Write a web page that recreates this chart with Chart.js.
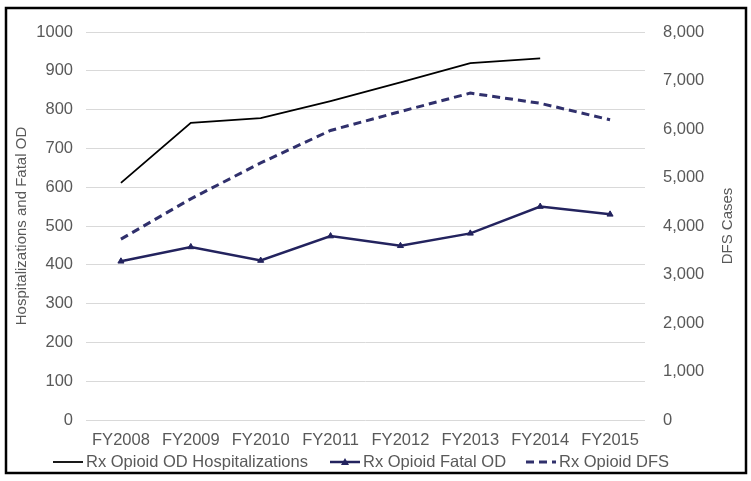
<!DOCTYPE html>
<html>
<head>
<meta charset="utf-8">
<script src="https://cdn.jsdelivr.net/npm/chart.js@4.4.1/dist/chart.umd.min.js"></script>
<style>
  html, body { margin: 0; padding: 0; background: #fff; }
  #wrap { width: 751px; height: 481px; }
</style>
</head>
<body>
<div id="wrap"><canvas id="odChart" width="751" height="481"></canvas></div>
<script>
const years = ['FY2008', 'FY2009', 'FY2010', 'FY2011', 'FY2012', 'FY2013', 'FY2014', 'FY2015'];
const hospitalizations = [611, 766, 778, 822, 870, 920, 932, null];
const fatalOD = [409, 446, 411, 474, 449, 481, 550, 530];
const dfsCases = [3730, 4560, 5300, 5970, 6360, 6740, 6530, 6190];

const leftTicks = [0, 100, 200, 300, 400, 500, 600, 700, 800, 900, 1000];
const rightTicks = [0, 1000, 2000, 3000, 4000, 5000, 6000, 7000, 8000];

const gray = '#595959';
const navy = '#23235e';
const fontFamily = 'Arial, "Liberation Sans", sans-serif';

// white page + black frame
const frame = {
  id: 'frame',
  beforeDraw(chart) {
    const c = chart.ctx;
    c.save();
    c.fillStyle = '#fff';
    c.fillRect(0, 0, chart.width, chart.height);
    c.strokeStyle = '#000';
    c.lineWidth = 2.5;
    c.strokeRect(6, 8, 740, 465);
    c.restore();
  }
};

// right axis title reads bottom-to-top, like the left one
const rightTitle = {
  id: 'rightTitle',
  afterDraw(chart) {
    const c = chart.ctx;
    const area = chart.chartArea;
    c.save();
    c.translate(728, (area.top + area.bottom) / 2);
    c.rotate(-Math.PI / 2);
    c.font = '15px ' + fontFamily;
    c.fillStyle = gray;
    c.textAlign = 'center';
    c.textBaseline = 'middle';
    c.fillText('DFS Cases', 0, 0);
    c.restore();
  }
};

// legend drawn by hand so the marker line can carry a triangle
const bottomLegend = {
  id: 'bottomLegend',
  afterDraw(chart) {
    const c = chart.ctx;
    const y = 462;
    const starts = [53, 330, 526];
    c.save();
    c.font = '16.5px ' + fontFamily;
    c.textBaseline = 'middle';
    chart.data.datasets.forEach((ds, i) => {
      const x = starts[i];
      c.strokeStyle = ds.borderColor;
      c.lineWidth = ds.borderWidth;
      c.setLineDash(ds.borderDash || []);
      c.beginPath();
      c.moveTo(x, y);
      c.lineTo(x + 30, y);
      c.stroke();
      c.setLineDash([]);
      if (ds.pointRadius > 0) {
        c.fillStyle = ds.borderColor;
        c.beginPath();
        c.moveTo(x + 15, y - 4);
        c.lineTo(x + 19, y + 3);
        c.lineTo(x + 11, y + 3);
        c.closePath();
        c.fill();
      }
      c.fillStyle = gray;
      c.fillText(ds.label, x + 33, y);
    });
    c.restore();
  }
};

new Chart(document.getElementById('odChart'), {
  type: 'line',
  data: {
    labels: years,
    datasets: [
      {
        label: 'Rx Opioid OD Hospitalizations',
        data: hospitalizations,
        yAxisID: 'y',
        borderColor: '#000',
        borderWidth: 1.8,
        pointRadius: 0,
        tension: 0,
        spanGaps: false
      },
      {
        label: 'Rx Opioid Fatal OD',
        data: fatalOD,
        yAxisID: 'y',
        borderColor: navy,
        backgroundColor: navy,
        borderWidth: 2.5,
        pointStyle: 'triangle',
        pointRadius: 3.5,
        pointBorderWidth: 1,
        tension: 0
      },
      {
        label: 'Rx Opioid DFS',
        data: dfsCases,
        yAxisID: 'y2',
        borderColor: '#30306c',
        borderWidth: 3,
        borderDash: [8, 5],
        pointRadius: 0,
        tension: 0
      }
    ]
  },
  options: {
    responsive: false,
    animation: false,
    devicePixelRatio: 1,
    layout: { padding: { top: 32, bottom: 31, left: 0, right: 0 } },
    plugins: {
      legend: { display: false },
      tooltip: { enabled: false }
    },
    scales: {
      x: {
        offset: true,
        grid: { display: false, drawTicks: false },
        border: { display: false },
        ticks: { color: gray, font: { size: 16.5, family: fontFamily }, padding: 11, maxRotation: 0, autoSkip: false },
        afterFit: s => { s.height = 30; }
      },
      y: {
        position: 'left',
        min: 0,
        max: 1000,
        afterBuildTicks: s => { s.ticks = leftTicks.map(v => ({ value: v })); },
        grid: { color: '#d9d9d9', lineWidth: 1, drawTicks: false },
        border: { display: false },
        ticks: { color: gray, font: { size: 16.5, family: fontFamily }, padding: 13, callback: v => String(v) },
        title: { display: true, text: 'Hospitalizations and Fatal OD', color: gray, font: { size: 15, family: fontFamily }, padding: { top: 13, bottom: 0 } },
        afterFit: s => { s.width = 86; }
      },
      y2: {
        position: 'right',
        min: 0,
        max: 8000,
        afterBuildTicks: s => { s.ticks = rightTicks.map(v => ({ value: v })); },
        grid: { display: false, drawTicks: false },
        border: { display: false },
        ticks: { color: gray, font: { size: 16.5, family: fontFamily }, padding: 18, callback: v => v.toLocaleString('en-US') },
        afterFit: s => { s.width = 106; }
      }
    }
  },
  plugins: [frame, rightTitle, bottomLegend]
});
</script>
</body>
</html>
